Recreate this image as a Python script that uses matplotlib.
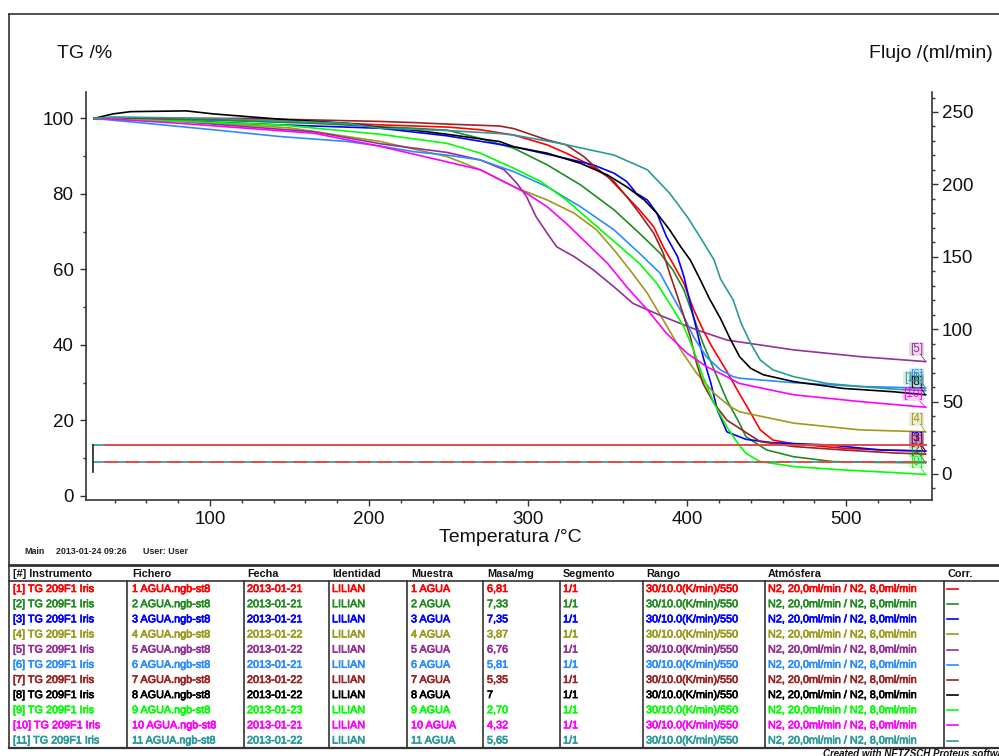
import matplotlib
matplotlib.use("Agg")
import matplotlib.pyplot as plt
import matplotlib.patheffects as pe
from matplotlib.lines import Line2D
from matplotlib.ticker import MultipleLocator

plt.rcParams['font.family'] = ['Liberation Sans', 'DejaVu Sans']

W, H = 999, 756

# ---- TG curves (temperature in °C, mass in %) ----
t1 = [27, 80, 150, 207, 250, 270, 291, 312, 324, 337, 350, 360, 370, 379, 385, 391, 398, 404, 410, 415, 425, 433, 440, 446, 454, 467, 500, 530, 550]
tg1 = [100, 99.8, 99.4, 98.3, 97.7, 97.0, 95.6, 93.0, 90.8, 88.1, 84.6, 80.2, 75.8, 71.3, 66.0, 61.6, 56.3, 49.5, 44.0, 40.0, 33.0, 27.0, 22.0, 17.5, 14.8, 13.8, 12.6, 12.1, 11.9]

t2 = [27, 81, 165, 207, 228, 249, 270, 291, 312, 333, 354, 370, 383, 391, 398, 404, 410, 417, 425, 433, 437, 450, 467, 492, 520, 550]
tg2 = [100, 99.8, 98.7, 97.8, 97.4, 96.9, 94.7, 92.1, 87.7, 82.4, 75.8, 69.6, 64.3, 59.9, 54.6, 47.5, 40.4, 33.4, 25.4, 19.2, 15.7, 12.2, 10.4, 9.1, 8.9, 8.8]

t3 = [27, 60, 144, 207, 249, 291, 324, 341, 354, 362, 368, 375, 381, 387, 394, 398, 402, 406, 410, 415, 419, 425, 437, 454, 490, 521, 550]
tg3 = [100, 99.7, 98.3, 97.4, 95.4, 92.5, 89.4, 87.7, 85.5, 83.3, 80.2, 78.4, 74.9, 68.7, 63.4, 58.1, 51.0, 44.0, 36.9, 29.8, 22.8, 17.0, 15.0, 14.1, 13.5, 12.2, 11.9]

t4 = [27, 80, 150, 207, 249, 270, 291, 312, 329, 343, 354, 364, 375, 385, 396, 406, 417, 427, 433, 467, 509, 550]
tg4 = [100, 99.4, 97.5, 93.9, 89.9, 86.4, 81.9, 78.4, 74.9, 70.5, 65.2, 59.9, 53.7, 46.6, 38.7, 32.5, 27.2, 23.7, 22.3, 19.3, 17.5, 17.0]

t5 = [27, 81, 123, 165, 207, 249, 270, 285, 293, 299, 305, 312, 318, 329, 341, 354, 366, 385, 406, 425, 467, 509, 550]
tg5 = [100, 99.2, 97.8, 96.5, 93.3, 91.0, 89.0, 86.4, 82.8, 79.3, 74.0, 69.6, 66.0, 63.4, 59.9, 55.4, 51.0, 47.5, 44.0, 41.3, 38.7, 36.9, 35.6]

t6 = [27, 60, 102, 144, 186, 207, 228, 249, 270, 291, 312, 333, 354, 370, 383, 391, 398, 404, 412, 421, 429, 433, 467, 509, 550]
tg6 = [100, 98.7, 97.0, 95.2, 93.9, 92.7, 91.2, 90.3, 89.0, 85.9, 81.9, 76.6, 70.5, 64.3, 59.0, 52.8, 47.5, 42.2, 36.9, 33.4, 31.6, 31.2, 30.0, 29.0, 28.6]

t7 = [27, 39, 123, 165, 207, 228, 249, 282, 291, 312, 324, 335, 343, 354, 362, 370, 379, 385, 389, 394, 398, 402, 406, 410, 417, 425, 433, 446, 467, 498, 530, 550]
tg7 = [100, 100, 100, 99.6, 99.2, 98.9, 98.5, 98.0, 97.3, 94.3, 93.0, 89.9, 86.8, 83.3, 79.3, 74.9, 69.6, 64.3, 59.0, 52.8, 47.5, 42.2, 35.1, 29.8, 24.5, 20.1, 17.9, 14.4, 13.1, 12.2, 11.4, 11.1]

t8 = [27, 39, 50, 85, 102, 123, 144, 186, 207, 228, 249, 282, 291, 312, 333, 350, 362, 373, 381, 389, 396, 402, 408, 414, 421, 427, 433, 440, 448, 467, 498, 530, 550]
tg8 = [100, 101.2, 101.8, 102.0, 101.2, 100.5, 99.8, 98.7, 97.6, 96.9, 95.8, 93.9, 92.5, 90.8, 88.1, 85.0, 81.9, 78.4, 74.9, 70.5, 66.0, 62.5, 57.5, 52.3, 47.0, 41.7, 36.9, 33.8, 32.1, 30.3, 28.5, 27.6, 26.8]

t9 = [27, 81, 144, 207, 249, 270, 291, 308, 324, 341, 358, 370, 381, 389, 398, 404, 410, 417, 425, 432, 437, 446, 456, 467, 498, 530, 550]
tg9 = [100, 99.2, 98.3, 95.8, 93.4, 90.8, 86.8, 83.3, 78.4, 72.2, 66.0, 61.6, 56.3, 51.0, 44.8, 38.7, 31.6, 24.5, 18.3, 13.9, 11.3, 9.1, 8.5, 7.8, 6.9, 6.2, 5.7]

t10 = [27, 39, 81, 123, 165, 207, 249, 270, 287, 299, 312, 324, 337, 350, 362, 375, 387, 400, 412, 425, 433, 467, 509, 550]
tg10 = [100, 99.8, 98.7, 97.4, 96.1, 92.6, 88.5, 86.4, 82.8, 80.2, 76.6, 72.2, 66.9, 61.6, 55.4, 49.3, 43.1, 37.8, 34.3, 31.6, 29.8, 26.8, 25.0, 23.5]

t11 = [27, 39, 102, 186, 207, 249, 282, 291, 320, 354, 375, 389, 400, 408, 417, 421, 429, 434, 440, 446, 454, 467, 488, 509, 530, 550]
tg11 = [100, 100.4, 100.0, 98.7, 97.4, 96.8, 96.0, 95.6, 93.4, 90.3, 86.4, 80.2, 74.0, 68.7, 62.5, 57.5, 51.9, 45.7, 40.4, 36.0, 33.4, 31.6, 29.8, 29.0, 28.3, 27.9]

temps = [t1, t2, t3, t4, t5, t6, t7, t8, t9, t10, t11]
masses = [tg1, tg2, tg3, tg4, tg5, tg6, tg7, tg8, tg9, tg10, tg11]

colors = ['#ff0000', '#228b22', '#0000ff', '#9a9a1c', '#952f95', '#2a8cff',
          '#9b2323', '#000000', '#00ff00', '#ff00ff', '#2b9a9a']

# ---- gas flow (ml/min) ----
flow_start = 26.6
flow_end = 550
purge_flow = 20.0
protect_flow = 8.0
flow_ramp = [1.0, 20.0]

# ---- measurement table ----
run_ids = list(range(1, 12))
instrumento = [f'[{i}] TG 209F1 Iris' for i in run_ids]
fichero = [f'{i} AGUA.ngb-st8' for i in run_ids]
fecha = ['2013-01-21', '2013-01-21', '2013-01-21', '2013-01-22', '2013-01-22', '2013-01-21',
         '2013-01-22', '2013-01-22', '2013-01-23', '2013-01-21', '2013-01-22']
identidad = ['LILIAN'] * 11
muestra = [f'{i} AGUA' for i in run_ids]
masa = ['6,81', '7,33', '7,35', '3,87', '6,76', '5,81', '5,35', '7', '2,70', '4,32', '5,65']
segmento = ['1/1'] * 11
rango = ['30/10.0(K/min)/550'] * 11
atmosfera = ['N2, 20,0ml/min / N2, 8,0ml/min'] * 11
headers = ['[#] Instrumento', 'Fichero', 'Fecha', 'Identidad', 'Muestra', 'Masa/mg',
           'Segmento', 'Rango', 'Atmósfera', 'Corr.']
columns = [instrumento, fichero, fecha, identidad, muestra, masa, segmento, rango, atmosfera]

fig = plt.figure(figsize=(W / 100, H / 100), dpi=100)


def fx(px):
    return px / W


def fy(py):
    return 1 - py / H


ax = fig.add_axes([fx(86), fy(500), fx(932) - fx(86), fy(92) - fy(500)])
ax.set_xlim(22, 554)
ax.set_ylim(-1.06, 107.0)
ax2 = ax.twinx()
ax2.set_ylim(-18.0, 263.8)

axis_col = '#333333'
for a in (ax, ax2):
    a.spines['top'].set_visible(False)
    for s in a.spines.values():
        s.set_color(axis_col)
        s.set_linewidth(1.2)
ax.spines['right'].set_visible(False)
ax2.spines['left'].set_visible(False)
ax2.spines['bottom'].set_visible(False)

for t, m, c in zip(temps, masses, colors):
    ax.plot(t, m, color=c, lw=1.2, zorder=3)

for i, (t, m, c) in enumerate(zip(temps, masses, colors), start=1):
    ax.annotate(f'[{i}]', xy=(t[-1], m[-1]), xytext=(-2, 5), textcoords='offset points',
                ha='right', va='bottom', fontsize=8.5, color=c, zorder=5,
                bbox=dict(boxstyle='square,pad=0.08', fc=c, ec='none', alpha=0.18),
                arrowprops=dict(arrowstyle='-', color=c, lw=0.6, shrinkA=0, shrinkB=0))

teal, flow_red = '#2b9a9a', '#ff3a3a'
ax2.plot([flow_start, flow_end], [purge_flow, purge_flow], color=teal, lw=1.2)
ax2.plot([flow_start + 6.7, flow_end], [purge_flow, purge_flow], color=flow_red, lw=1.2)
ax2.plot([flow_start, flow_end], [protect_flow, protect_flow], color=teal, lw=1.2)
ax2.plot([flow_start + 6.7, flow_end], [protect_flow, protect_flow], color=flow_red, lw=1.2,
         dashes=(9, 3.6))
ax2.plot([flow_start, flow_start], flow_ramp, color='#222222', lw=1.2)

ax.xaxis.set_major_locator(MultipleLocator(100))
ax.xaxis.set_minor_locator(MultipleLocator(20))
ax.yaxis.set_major_locator(MultipleLocator(20))
ax.yaxis.set_minor_locator(MultipleLocator(10))
ax2.yaxis.set_major_locator(MultipleLocator(50))
ax2.yaxis.set_minor_locator(MultipleLocator(10))

ax.tick_params(axis='x', which='major', direction='out', length=4, width=1, labelsize=13.5,
               pad=4, colors=axis_col, labelcolor='#111111')
ax.tick_params(axis='y', which='major', direction='out', length=4, width=1, labelsize=13.5,
               pad=5, colors=axis_col, labelcolor='#111111')
ax.tick_params(which='minor', direction='out', length=2, width=1, colors=axis_col)
ax2.tick_params(axis='y', which='major', direction='out', length=4, width=1, labelsize=13.5,
                pad=3, colors=axis_col, labelcolor='#111111')
ax2.tick_params(axis='y', which='minor', direction='out', length=2, width=1, colors=axis_col)

fig.text(fx(57), fy(53), 'TG /%', fontsize=14, ha='left', va='center', color='#111111')
fig.text(fx(993), fy(53), 'Flujo /(ml/min)', fontsize=14, ha='right', va='center', color='#111111')
fig.text(fx(510), fy(538), 'Temperatura /°C', fontsize=14, ha='center', va='center', color='#111111')

# outer frame
frame_col = '#333333'
fig.add_artist(Line2D([fx(9), fx(9)], [fy(14), fy(748)], color=frame_col, lw=1.2))
fig.add_artist(Line2D([fx(9), 1], [fy(14), fy(14)], color=frame_col, lw=1.2))

fig.text(fx(24), fy(552), 'Main', fontsize=6.4, fontweight='bold', va='center', color='#222222')
fig.text(fx(56), fy(552), '2013-01-24 09:26', fontsize=6.4, fontweight='bold', va='center', color='#222222')
fig.text(fx(143), fy(552), 'User: User', fontsize=6.4, fontweight='bold', va='center', color='#222222')

# table grid
fig.add_artist(Line2D([fx(9), 1], [fy(565), fy(565)], color=frame_col, lw=2.0))
fig.add_artist(Line2D([fx(9), 1], [fy(581), fy(581)], color=frame_col, lw=1.2))
fig.add_artist(Line2D([fx(9), 1], [fy(748), fy(748)], color=frame_col, lw=1.6))
for xs in [127, 244, 329, 407, 483, 560, 643, 765, 944]:
    fig.add_artist(Line2D([fx(xs), fx(xs)], [fy(581), fy(748)], color=frame_col, lw=1.2))

col_x = [13, 132, 247, 332, 411, 487, 563, 646, 768, 947]
for x, h in zip(col_x, headers):
    fig.text(fx(x), fy(574), h, fontsize=7.8, fontweight='bold', va='center', color='#111111')

row0, row_step = 589, 15.15
for r in range(11):
    yy = fy(row0 + r * row_step)
    for x, col in zip(col_x, columns):
        fig.text(fx(x), yy, col[r], fontsize=7.8, va='center', color=colors[r],
                 path_effects=[pe.withStroke(linewidth=0.5, foreground=colors[r])])
    fig.add_artist(Line2D([fx(947), fx(958)], [yy, yy], color=colors[r], lw=1.2))

fig.text(fx(823), fy(754), 'Created with NETZSCH Proteus software', fontsize=7,
         fontweight='bold', fontstyle='italic', va='center', color='#111111')

fig.savefig('out.png', dpi=100)
